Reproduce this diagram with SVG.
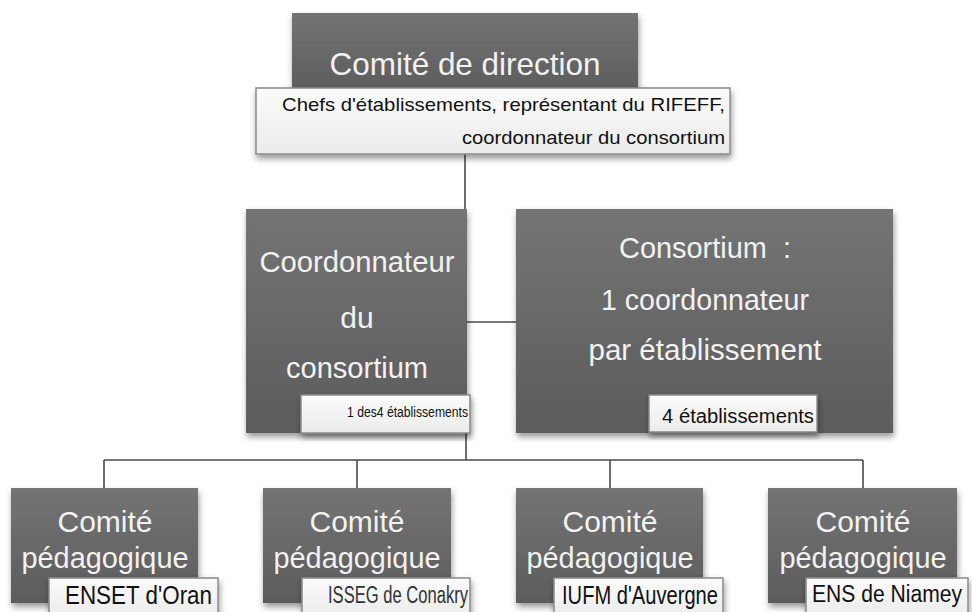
<svg xmlns="http://www.w3.org/2000/svg" width="972" height="612" viewBox="0 0 972 612">
  <style>
    text { font-family: "Liberation Sans", Arial, sans-serif; }
    .box { fill: url(#dark); filter: url(#shadow); }
    .lbl { fill: url(#light); stroke: #8a8a8a; stroke-width: 1.5; filter: url(#shadow); }
    .big { fill: #f2f2f2; text-anchor: middle; }
    .t31 { font-size: 32px; }
    .t29 { font-size: 30px; }
    .small { fill: #111; text-anchor: end; }
    .conn { stroke: #4a4a4a; stroke-width: 1.6; fill: none; }
  </style>
  <defs>
    <linearGradient id="dark" x1="0" y1="0" x2="0" y2="1">
      <stop offset="0" stop-color="#747474"/>
      <stop offset="1" stop-color="#5c5c5c"/>
    </linearGradient>
    <linearGradient id="light" x1="0" y1="0" x2="0" y2="1">
      <stop offset="0" stop-color="#fbfbfb"/>
      <stop offset="1" stop-color="#ebebeb"/>
    </linearGradient>
    <filter id="shadow" x="-10%" y="-10%" width="120%" height="130%">
      <feDropShadow dx="1" dy="4" stdDeviation="3" flood-color="#000" flood-opacity="0.4"/>
    </filter>
  </defs>
  <rect width="972" height="612" fill="#ffffff"/>

  <g id="connectors">
    <line class="conn" x1="465" y1="154" x2="465" y2="210"/>
    <line class="conn" x1="467" y1="322" x2="516" y2="322"/>
    <line class="conn" x1="466" y1="433" x2="466" y2="460"/>
    <line class="conn" x1="104" y1="460" x2="863" y2="460"/>
    <line class="conn" x1="104" y1="460" x2="104" y2="489"/>
    <line class="conn" x1="357" y1="460" x2="357" y2="489"/>
    <line class="conn" x1="610" y1="460" x2="610" y2="489"/>
    <line class="conn" x1="863" y1="460" x2="863" y2="489"/>
  </g>

  <g id="comite-direction">
    <rect class="box" x="292" y="13" width="346" height="80"/>
    <text class="big t31" x="465" y="75" textLength="271" lengthAdjust="spacingAndGlyphs">Comité de direction</text>
    <rect class="lbl" x="256" y="88" width="474" height="66"/>
    <text class="small" x="725" y="111" font-size="19" textLength="443" lengthAdjust="spacingAndGlyphs">Chefs d'établissements, représentant du RIFEFF,</text>
    <text class="small" x="725" y="144" font-size="19" textLength="263" lengthAdjust="spacingAndGlyphs">coordonnateur du consortium</text>
  </g>

  <g id="coordonnateur">
    <rect class="box" x="246" y="209" width="221" height="224"/>
    <text class="big t29" x="357" y="272" textLength="195" lengthAdjust="spacingAndGlyphs">Coordonnateur</text>
    <text class="big t29" x="357" y="328">du</text>
    <text class="big t29" x="357" y="378" textLength="142" lengthAdjust="spacingAndGlyphs">consortium</text>
    <rect class="lbl" x="301" y="395" width="169" height="38"/>
    <text class="small" x="468" y="417" font-size="14" textLength="121" lengthAdjust="spacingAndGlyphs">1 des4 établissements</text>
  </g>

  <g id="consortium">
    <rect class="box" x="516" y="209" width="377" height="224"/>
    <text class="big t29" x="705" y="258" textLength="172" lengthAdjust="spacingAndGlyphs">Consortium&#160; :</text>
    <text class="big t29" x="705" y="310" textLength="208" lengthAdjust="spacingAndGlyphs">1 coordonnateur</text>
    <text class="big t29" x="705" y="360" textLength="233" lengthAdjust="spacingAndGlyphs">par établissement</text>
    <rect class="lbl" x="649" y="395" width="168" height="37"/>
    <text class="small" x="814" y="423" font-size="20" textLength="152" lengthAdjust="spacingAndGlyphs">4 établissements</text>
  </g>

  <g id="comite-oran">
    <rect class="box" x="11" y="488" width="187" height="115"/>
    <text class="big t29" x="105" y="532">Comité</text>
    <text class="big t29" x="105" y="568" textLength="167" lengthAdjust="spacingAndGlyphs">pédagogique</text>
    <rect class="lbl" x="49" y="578" width="169" height="40"/>
    <text class="small" x="212" y="604" font-size="25" textLength="147" lengthAdjust="spacingAndGlyphs">ENSET d'Oran</text>
  </g>

  <g id="comite-conakry">
    <rect class="box" x="263" y="488" width="188" height="115"/>
    <text class="big t29" x="357" y="532">Comité</text>
    <text class="big t29" x="357" y="568" textLength="167" lengthAdjust="spacingAndGlyphs">pédagogique</text>
    <rect class="lbl" x="302" y="578" width="168" height="40"/>
    <text class="small" x="468" y="603" font-size="23" style="fill:#333" textLength="140" lengthAdjust="spacingAndGlyphs">ISSEG de Conakry</text>
  </g>

  <g id="comite-auvergne">
    <rect class="box" x="516" y="488" width="187" height="115"/>
    <text class="big t29" x="610" y="532">Comité</text>
    <text class="big t29" x="610" y="568" textLength="167" lengthAdjust="spacingAndGlyphs">pédagogique</text>
    <rect class="lbl" x="554" y="578" width="169" height="40"/>
    <text class="small" x="718" y="604" font-size="25" textLength="156" lengthAdjust="spacingAndGlyphs">IUFM d'Auvergne</text>
  </g>

  <g id="comite-niamey">
    <rect class="box" x="768" y="488" width="189" height="115"/>
    <text class="big t29" x="863" y="532">Comité</text>
    <text class="big t29" x="863" y="568" textLength="167" lengthAdjust="spacingAndGlyphs">pédagogique</text>
    <rect class="lbl" x="806" y="578" width="162" height="40"/>
    <text class="small" x="962" y="602" font-size="23" textLength="150" lengthAdjust="spacingAndGlyphs">ENS de Niamey</text>
  </g>
</svg>
